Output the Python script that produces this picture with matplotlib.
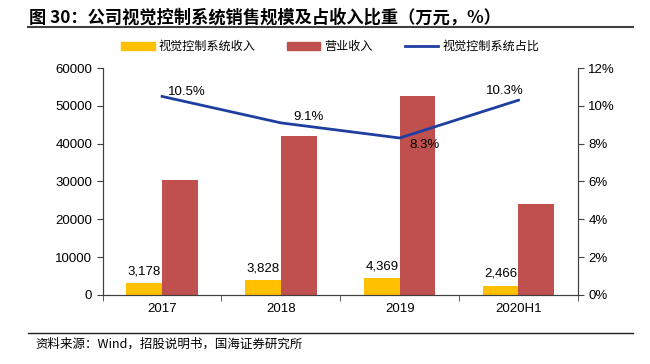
import numpy as np
import matplotlib
matplotlib.use("Agg")
import matplotlib.pyplot as plt
from matplotlib.lines import Line2D
from matplotlib.patches import Patch

plt.rcParams['font.family'] = ['Liberation Sans', 'Noto Sans CJK SC']

categories = ["2017", "2018", "2019", "2020H1"]
vision_rev = [3178, 3828, 4369, 2466]
total_rev = [30267, 42066, 52639, 23942]
share_pct = [10.5, 9.1, 8.3, 10.3]

yellow = '#FFC000'
red = '#C0504D'
blue = '#1F3FA0'

fig = plt.figure(figsize=(6.5, 3.64), dpi=100)
ax = fig.add_axes([0.158, 0.19, 0.731, 0.623])
ax2 = ax.twinx()

x = np.arange(len(categories))
w = 0.3
ax.bar(x - w / 2, vision_rev, w, color=yellow, zorder=2)
ax.bar(x + w / 2, total_rev, w, color=red, zorder=2)

for xi, v in zip(x, vision_rev):
    ax.annotate(f"{v:,}", (xi - w / 2, v), xytext=(0, 4), textcoords='offset points',
                ha='center', va='bottom', fontsize=9.5)

ax.set_xlim(-0.5, len(categories) - 0.5)
ax.set_ylim(0, 60000)
ax.set_yticks(np.arange(0, 60001, 10000))
ax.set_xticks(x)
ax.set_xticklabels(categories, fontsize=9.5)
ax.set_xticks(np.arange(-0.5, len(categories), 1), minor=True)
ax.tick_params(axis='x', which='major', length=0, pad=6)
ax.tick_params(axis='x', which='minor', length=4, direction='out', color='#404040')
ax.tick_params(axis='y', labelsize=9.5, length=4, color='#404040')

ax2.plot(x, share_pct, color=blue, lw=2, zorder=3)
ax2.set_ylim(0, 12)
ax2.set_yticks(np.arange(0, 13, 2))
ax2.set_yticklabels([f"{t}%" for t in range(0, 13, 2)])
ax2.tick_params(axis='y', labelsize=9.5, length=4, color='#404040')

offsets = [(18, -1, 'bottom'), (20, 0, 'bottom'), (18, -1, 'top'), (-10, 2, 'bottom')]
for xi, p, (dx, dy, va) in zip(x, share_pct, offsets):
    ax2.annotate(f"{p}%", (xi, p), xytext=(dx, dy), textcoords='offset points',
                 ha='center', va=va, fontsize=9.5)

for a in (ax, ax2):
    a.spines['top'].set_visible(False)
    for s in ('left', 'right', 'bottom'):
        a.spines[s].set_color('#404040')
        a.spines[s].set_linewidth(0.8)

handles = [Patch(color=yellow), Patch(color=red), Line2D([0], [0], color=blue, lw=2)]
labels = ["视觉控制系统收入", "营业收入", "视觉控制系统占比"]
fig.legend(handles, labels, loc='center', bbox_to_anchor=(0.508, 0.872), ncol=3,
           frameon=False, handlelength=2.75, handleheight=0.6,
           columnspacing=2.6, handletextpad=0.35,
           prop={'family': ['Noto Sans CJK SC'], 'size': 8.7})

fig.text(0.045, 0.952, "图 30：公司视觉控制系统销售规模及占收入比重（万元，%）",
         fontsize=12.4, fontweight='bold', family=['Noto Sans CJK SC'], va='center')
fig.add_artist(Line2D([0.043, 0.974], [0.925, 0.925], color='#404040', lw=1.5))
fig.add_artist(Line2D([0.043, 0.974], [0.085, 0.085], color='#202020', lw=1.0))
fig.text(0.055, 0.055, "资料来源：Wind，招股说明书，国海证券研究所", fontsize=9,
         family=['Noto Sans CJK SC', 'Liberation Sans'], va='center')

fig.savefig("out.png", dpi=100)
